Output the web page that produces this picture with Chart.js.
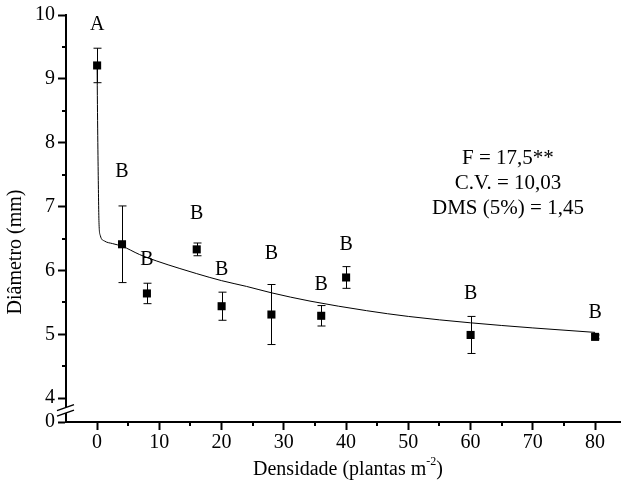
<!DOCTYPE html>
<html lang="pt">
<head>
  <meta charset="UTF-8">
  <title>Diâmetro x Densidade</title>
  <script src="https://cdn.jsdelivr.net/npm/chart.js"></script>
  <style>
    html, body { margin: 0; padding: 0; background: #fff; }
    #wrap { width: 631px; height: 495px; position: relative; }
  </style>
</head>
<body>
<div id="wrap"><canvas id="grafico"></canvas></div>

<script>
  // medias observadas
  const densidade = [0, 4, 8, 16, 20, 28, 36, 40, 60, 80];
  const diametro  = [9.21, 6.41, 5.64, 6.33, 5.44, 5.31, 5.29, 5.89, 4.99, 4.96];
  const desvio    = [0.27, 0.60, 0.16, 0.10, 0.22, 0.47, 0.16, 0.17, 0.29, 0.03];

  // letras do teste de medias e altura onde ficam
  const letras  = ['A', 'B', 'B', 'B', 'B', 'B', 'B', 'B', 'B', 'B'];
  const letraY  = [9.84, 7.54, 6.17, 6.89, 6.01, 6.26, 5.77, 6.41, 5.63, 5.34];

  // curva ajustada
  const curvaX = [0, 0.05, 0.15, 0.3, 0.5, 1.2, 2.5, 4, 6.8, 9.5, 13.3, 16, 20, 24, 28, 34.2, 43.3, 50, 60, 70, 80];
  const curvaY = [9.2, 8.6, 7.7, 6.75, 6.55, 6.46, 6.42, 6.38, 6.25, 6.15, 6.03, 5.95, 5.84, 5.75, 5.65, 5.52, 5.37, 5.28, 5.18, 5.10, 5.03];

  // eixos
  const xTicks = [0, 10, 20, 30, 40, 50, 60, 70, 80];
  const xMinor = [5, 15, 25, 35, 45, 55, 65, 75];
  const yTicks = [4, 5, 6, 7, 8, 9, 10];
  const yMinor = [4.5, 5.5, 6.5, 7.5, 8.5, 9.5];
  const yQuebra = 3.627;   // posicao do "0" depois da quebra do eixo

  const estatisticas = ['F = 17,5**', 'C.V. = 10,03', 'DMS (5%) = 1,45'];

  const fonte = '"Liberation Serif", "Times New Roman", serif';

  const extras = {
    id: 'extras',
    beforeDatasetsDraw(chart) {
      const { ctx } = chart;
      const xs = chart.scales.x, ys = chart.scales.y;
      ctx.save();
      ctx.strokeStyle = '#000';
      ctx.lineWidth = 1;
      densidade.forEach((d, i) => {
        const px = Math.round(xs.getPixelForValue(d)) + 0.5;
        const top = ys.getPixelForValue(diametro[i] + desvio[i]);
        const bot = ys.getPixelForValue(diametro[i] - desvio[i]);
        ctx.beginPath();
        ctx.moveTo(px, top); ctx.lineTo(px, bot);
        ctx.moveTo(px - 4, top); ctx.lineTo(px + 4, top);
        ctx.moveTo(px - 4, bot); ctx.lineTo(px + 4, bot);
        ctx.stroke();
      });
      ctx.restore();
    },
    afterDraw(chart) {
      const { ctx, chartArea } = chart;
      const xs = chart.scales.x, ys = chart.scales.y;
      ctx.save();
      ctx.fillStyle = '#000';
      ctx.strokeStyle = '#000';

      // letras
      ctx.font = '20px ' + fonte;
      ctx.textAlign = 'center';
      ctx.textBaseline = 'middle';
      densidade.forEach((d, i) => {
        ctx.fillText(letras[i], xs.getPixelForValue(d), ys.getPixelForValue(letraY[i]));
      });

      // estatisticas
      ctx.font = '21px ' + fonte;
      const ax = xs.getPixelForValue(66);
      let ay = ys.getPixelForValue(7.75);
      estatisticas.forEach(t => { ctx.fillText(t, ax, ay); ay += 25; });

      // ticks secundarios
      ctx.lineWidth = 2;
      ctx.beginPath();
      xMinor.forEach(v => {
        const px = Math.round(xs.getPixelForValue(v));
        ctx.moveTo(px, chartArea.bottom); ctx.lineTo(px, chartArea.bottom + 4);
      });
      yMinor.forEach(v => {
        const py = Math.round(ys.getPixelForValue(v));
        ctx.moveTo(chartArea.left, py); ctx.lineTo(chartArea.left - 4, py);
      });
      ctx.stroke();

      // quebra do eixo y
      const bx = chartArea.left;
      const by = (ys.getPixelForValue(4) + ys.getPixelForValue(yQuebra)) / 2;
      ctx.fillStyle = '#fff';
      ctx.fillRect(bx - 2, by - 3, 4, 6);
      ctx.lineWidth = 1.5;
      ctx.beginPath();
      ctx.moveTo(bx - 9, by + 0.5); ctx.lineTo(bx + 8, by - 5.5);
      ctx.moveTo(bx - 9, by + 6); ctx.lineTo(bx + 8, by);
      ctx.stroke();

      // titulos dos eixos
      ctx.fillStyle = '#000';
      ctx.font = '20px ' + fonte;
      ctx.save();
      ctx.translate(16, 252);
      ctx.rotate(-Math.PI / 2);
      ctx.textAlign = 'center';
      ctx.fillText('Diâmetro (mm)', 0, 0);
      ctx.restore();

      const t1 = 'Densidade (plantas m', t2 = '-2', t3 = ')';
      ctx.font = '20px ' + fonte;
      const w1 = ctx.measureText(t1).width, w3 = ctx.measureText(t3).width;
      ctx.font = '12px ' + fonte;
      const w2 = ctx.measureText(t2).width;
      let tx = 348 - (w1 + w2 + w3) / 2;
      const ty = 470;
      ctx.textAlign = 'left';
      ctx.font = '20px ' + fonte;
      ctx.fillText(t1, tx, ty); tx += w1;
      ctx.font = '12px ' + fonte;
      ctx.fillText(t2, tx, ty - 8); tx += w2;
      ctx.font = '20px ' + fonte;
      ctx.fillText(t3, tx, ty);
      ctx.restore();
    }
  };

  const ctx = document.getElementById('grafico').getContext('2d');
  new Chart(ctx, {
    type: 'scatter',
    data: {
      datasets: [
        {
          label: 'Diâmetro',
          data: densidade.map((d, i) => ({ x: d, y: diametro[i] })),
          pointStyle: 'rect',
          pointRadius: 5.7,
          backgroundColor: '#000',
          borderColor: '#000',
          borderWidth: 0,
          order: 0
        },
        {
          type: 'line',
          label: 'Ajuste',
          data: curvaX.map((x, i) => ({ x, y: curvaY[i] })),
          borderColor: '#000',
          borderWidth: 1,
          pointRadius: 0,
          fill: false,
          cubicInterpolationMode: 'monotone',
          order: 1
        }
      ]
    },
    options: {
      responsive: true,
      maintainAspectRatio: false,
      animation: false,
      layout: { padding: { top: 12, right: 11, left: 0, bottom: 0 } },
      plugins: {
        legend: { display: false },
        tooltip: { enabled: false }
      },
      scales: {
        x: {
          type: 'linear',
          min: -5,
          max: 84,
          afterBuildTicks: s => { s.ticks = xTicks.map(v => ({ value: v })); },
          afterFit: s => { s.height = 73; },
          ticks: {
            color: '#000',
            font: { family: fonte, size: 20 },
            padding: 1,
            maxRotation: 0
          },
          grid: { drawOnChartArea: false, tickLength: 8, tickColor: '#000', tickWidth: 2 },
          border: { color: '#000', width: 2 }
        },
        y: {
          type: 'linear',
          min: yQuebra,
          max: 10,
          afterBuildTicks: s => { s.ticks = [yQuebra, ...yTicks].map(v => ({ value: v })); },
          afterFit: s => { s.width = 66; },
          ticks: {
            color: '#000',
            font: { family: fonte, size: 20 },
            padding: 3,
            callback: v => (Math.abs(v - yQuebra) < 0.001 ? '0' : v)
          },
          grid: { drawOnChartArea: false, tickLength: 8, tickColor: '#000', tickWidth: 2 },
          border: { color: '#000', width: 2 }
        }
      }
    },
    plugins: [extras]
  });
</script>
</body>
</html>
